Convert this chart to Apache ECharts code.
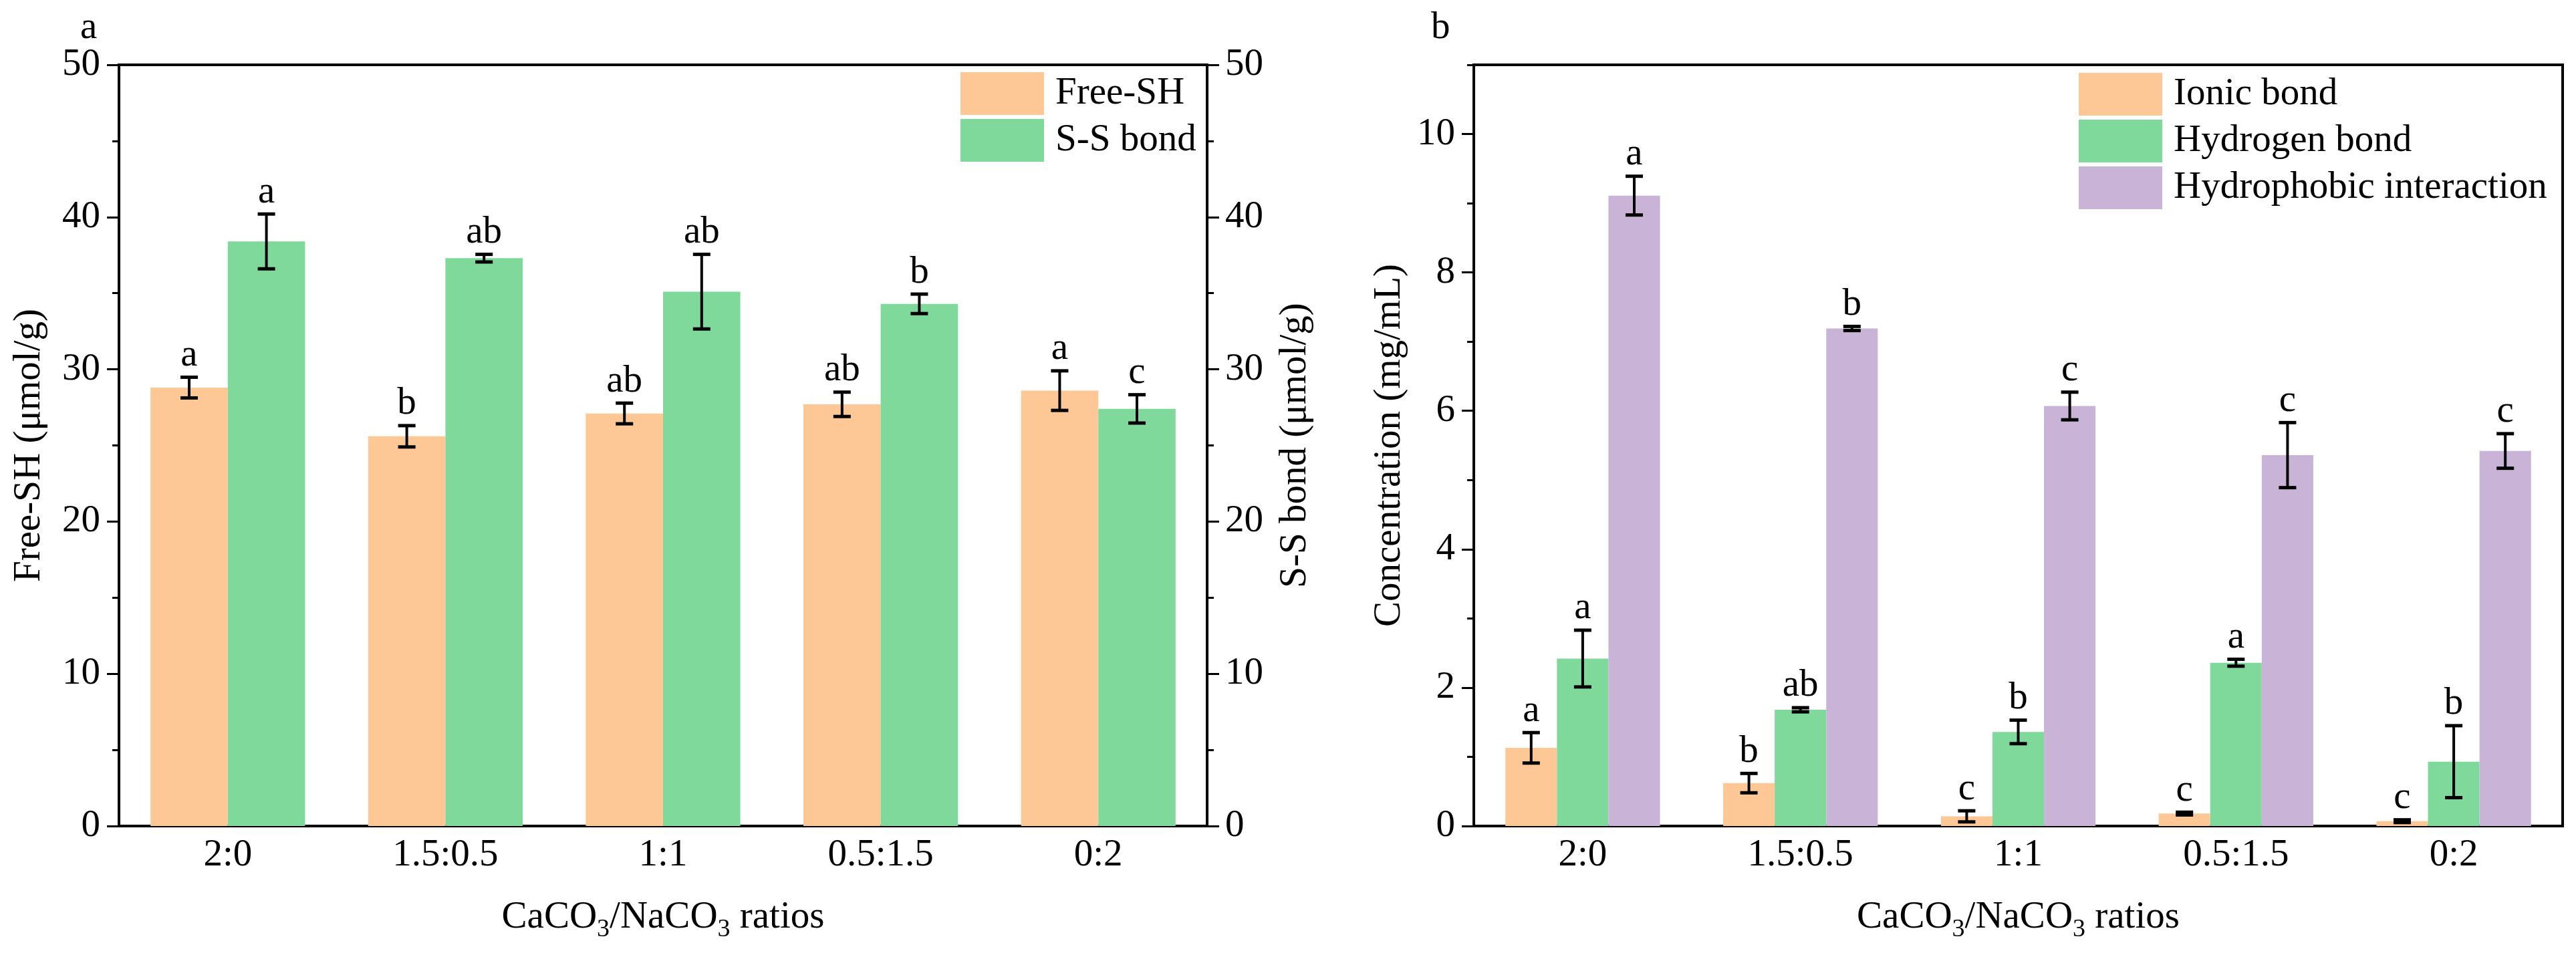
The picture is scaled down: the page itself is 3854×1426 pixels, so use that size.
<!DOCTYPE html>
<html>
<head>
<meta charset="utf-8">
<title>Free-SH / S-S bond and bond concentrations</title>
<script src="https://cdn.jsdelivr.net/npm/echarts@6/dist/echarts.min.js"></script>
<style>
    html, body { margin: 0; padding: 0; background: #fff; }
    #chart { width: 3854px; height: 1426px; }
</style>
</head>
<body>
<div id="chart"></div>
<script>
// Data
var categories = ['2:0', '1.5:0.5', '1:1', '0.5:1.5', '0:2'];

// panel a
var freeSH = [28.8, 25.6, 27.1, 27.7, 28.6];
var freeSHErr = [0.68, 0.70, 0.68, 0.80, 1.30];
var freeSHLetters = ['a', 'b', 'ab', 'ab', 'a'];
var ssBond = [38.4, 37.3, 35.1, 34.3, 27.4];
var ssBondErr = [1.80, 0.25, 2.45, 0.64, 0.93];
var ssBondLetters = ['a', 'ab', 'ab', 'b', 'c'];

// panel b
var ionic = [1.13, 0.62, 0.14, 0.18, 0.07];
var ionicErr = [0.22, 0.14, 0.08, 0.02, 0.02];
var ionicLetters = ['a', 'b', 'c', 'c', 'c'];
var hydrogen = [2.42, 1.68, 1.36, 2.36, 0.93];
var hydrogenErr = [0.41, 0.03, 0.17, 0.05, 0.52];
var hydrogenLetters = ['a', 'ab', 'b', 'a', 'b'];
var hydrophobic = [9.11, 7.19, 6.07, 5.36, 5.42];
var hydrophobicErr = [0.28, 0.03, 0.20, 0.47, 0.25];
var hydrophobicLetters = ['a', 'b', 'c', 'c', 'c'];

// panel b tick marks (major labelled, minor unlabelled)
var yMajorB = [0, 2, 4, 6, 8, 10];
var yMinorB = [1, 3, 5, 7, 9, 11];

var FONT = 'Liberation Serif';
var FS = 57;
var ORANGE = '#FEC896';
var GREEN = '#7FD99B';
var PURPLE = '#C9B4D8';
var CAT_GAP = 0.29;

var chart = echarts.init(document.getElementById('chart'));

function errData(vals, errs) {
    return vals.map(function (v, i) { return [i, v, errs[i]]; });
}

// error bar + significance letter, shifted to sit on bar i of n in the group
function errRenderer(i, n, letters) {
    return function (params, api) {
        var c = api.value(0), v = api.value(1), e = api.value(2);
        var band = api.size([1, 0])[0];
        var bw = band * (1 - CAT_GAP) / n;
        var x = api.coord([c, v])[0] + (i - (n - 1) / 2) * bw;
        var yt = api.coord([c, v + e])[1];
        var yb = api.coord([c, Math.max(v - e, 0)])[1];
        var cap = 13;
        var ln = { stroke: '#000', lineWidth: 4 };
        var capStyle = { stroke: '#000', lineWidth: 5 };
        return {
            type: 'group',
            children: [
                { type: 'line', shape: { x1: x, y1: yt, x2: x, y2: yb }, style: ln },
                { type: 'line', shape: { x1: x - cap, y1: yt, x2: x + cap, y2: yt }, style: capStyle },
                { type: 'line', shape: { x1: x - cap, y1: yb, x2: x + cap, y2: yb }, style: capStyle },
                { type: 'text', style: {
                    text: letters[params.dataIndex], x: x, y: yt - 4,
                    align: 'center', verticalAlign: 'bottom',
                    font: FS + 'px "' + FONT + '"', fill: '#000'
                } }
            ]
        };
    };
}

function valueAxis(gridIndex, pos, max, interval, name, gap, labelMargin) {
    return {
        type: 'value', gridIndex: gridIndex, position: pos,
        min: 0, max: max, interval: interval,
        name: name, nameLocation: 'middle', nameGap: gap, nameRotate: 90,
        nameTextStyle: { fontFamily: FONT, fontSize: FS, color: '#000' },
        axisLine: { show: true, lineStyle: { color: '#000', width: 4 } },
        axisTick: { show: true, inside: false, length: 18, lineStyle: { color: '#000', width: 3 } },
        minorTick: { show: true, splitNumber: 2, length: 10, lineStyle: { color: '#000', width: 3 } },
        splitLine: { show: false },
        axisLabel: { margin: labelMargin, fontFamily: FONT, fontSize: FS, color: '#000' }
    };
}

var xName = '{a|CaCO}{s|3}{a|/NaCO}{s|3}{a| ratios}';
function catAxis(gridIndex) {
    return {
        type: 'category', gridIndex: gridIndex, data: categories,
        name: xName, nameLocation: 'middle', nameGap: 100,
        nameTextStyle: {
            fontFamily: FONT, fontSize: FS, color: '#000',
            rich: {
                a: { fontFamily: FONT, fontSize: FS, color: '#000' },
                s: { fontFamily: FONT, fontSize: 38, color: '#000', padding: [36, 0, 0, 0] }
            }
        },
        axisLine: { show: true, lineStyle: { color: '#000', width: 4 } },
        axisTick: { show: false },
        axisLabel: { margin: 16, fontFamily: FONT, fontSize: FS, color: '#000' }
    };
}

function bar(name, data, color, xi, yi) {
    return {
        name: name, type: 'bar', xAxisIndex: xi, yAxisIndex: yi,
        data: data, barGap: '0%', barCategoryGap: (CAT_GAP * 100) + '%',
        itemStyle: { color: color }
    };
}

function errSeries(vals, errs, letters, i, n, xi, yi) {
    return {
        type: 'custom', xAxisIndex: xi, yAxisIndex: yi, z: 5,
        data: errData(vals, errs), encode: { x: 0, y: 1 },
        renderItem: errRenderer(i, n, letters)
    };
}

var legendBase = {
    orient: 'vertical', padding: 0, itemGap: 6,
    itemWidth: 125, itemHeight: 64, icon: 'rect',
    textStyle: { fontFamily: FONT, fontSize: FS, color: '#000', padding: [0, 0, 0, 12] }
};

// panel b: labelled axis with major ticks only
var yAxisB = valueAxis(1, 'left', 11, 2, 'Concentration (mg/mL)', 97, 28);
yAxisB.axisTick.customValues = yMajorB;
yAxisB.axisLabel.customValues = yMajorB;
yAxisB.minorTick = { show: false };

// panel b: second axis on the same line, only for the short minor ticks
var yAxisBMinor = {
    type: 'value', gridIndex: 1, position: 'left',
    min: 0, max: 11, interval: 1,
    axisLine: { show: false },
    axisTick: { show: true, inside: false, length: 10, customValues: yMinorB, lineStyle: { color: '#000', width: 3 } },
    axisLabel: { show: false },
    splitLine: { show: false }
};

var option = {
    backgroundColor: '#fff',
    animation: false,
    textStyle: { fontFamily: FONT },
    grid: [
        { left: 178, right: 2048, top: 97, bottom: 190, show: true, borderColor: '#000', borderWidth: 4 },
        { left: 2205, right: 20, top: 97, bottom: 190, show: true, borderColor: '#000', borderWidth: 4 }
    ],
    legend: [
        Object.assign({}, legendBase, { left: 1437, top: 108, data: ['Free-SH', 'S-S bond'] }),
        Object.assign({}, legendBase, { left: 3110, top: 109, data: ['Ionic bond', 'Hydrogen bond', 'Hydrophobic interaction'] })
    ],
    xAxis: [catAxis(0), catAxis(1)],
    yAxis: [
        valueAxis(0, 'left', 50, 10, 'Free-SH (μmol/g)', 105, 28),
        valueAxis(0, 'right', 50, 10, 'S-S bond (μmol/g)', 104, 27),
        yAxisB,
        yAxisBMinor
    ],
    graphic: [
        { type: 'text', left: 120, top: 14, style: { text: 'a', font: FS + 'px "' + FONT + '"', fill: '#000' } },
        { type: 'text', left: 2141, top: 14, style: { text: 'b', font: FS + 'px "' + FONT + '"', fill: '#000' } }
    ],
    series: [
        bar('Free-SH', freeSH, ORANGE, 0, 0),
        bar('S-S bond', ssBond, GREEN, 0, 1),
        errSeries(freeSH, freeSHErr, freeSHLetters, 0, 2, 0, 0),
        errSeries(ssBond, ssBondErr, ssBondLetters, 1, 2, 0, 1),

        bar('Ionic bond', ionic, ORANGE, 1, 2),
        bar('Hydrogen bond', hydrogen, GREEN, 1, 2),
        bar('Hydrophobic interaction', hydrophobic, PURPLE, 1, 2),
        errSeries(ionic, ionicErr, ionicLetters, 0, 3, 1, 2),
        errSeries(hydrogen, hydrogenErr, hydrogenLetters, 1, 3, 1, 2),
        errSeries(hydrophobic, hydrophobicErr, hydrophobicLetters, 2, 3, 1, 2)
    ]
};

chart.setOption(option);
</script>
</body>
</html>
